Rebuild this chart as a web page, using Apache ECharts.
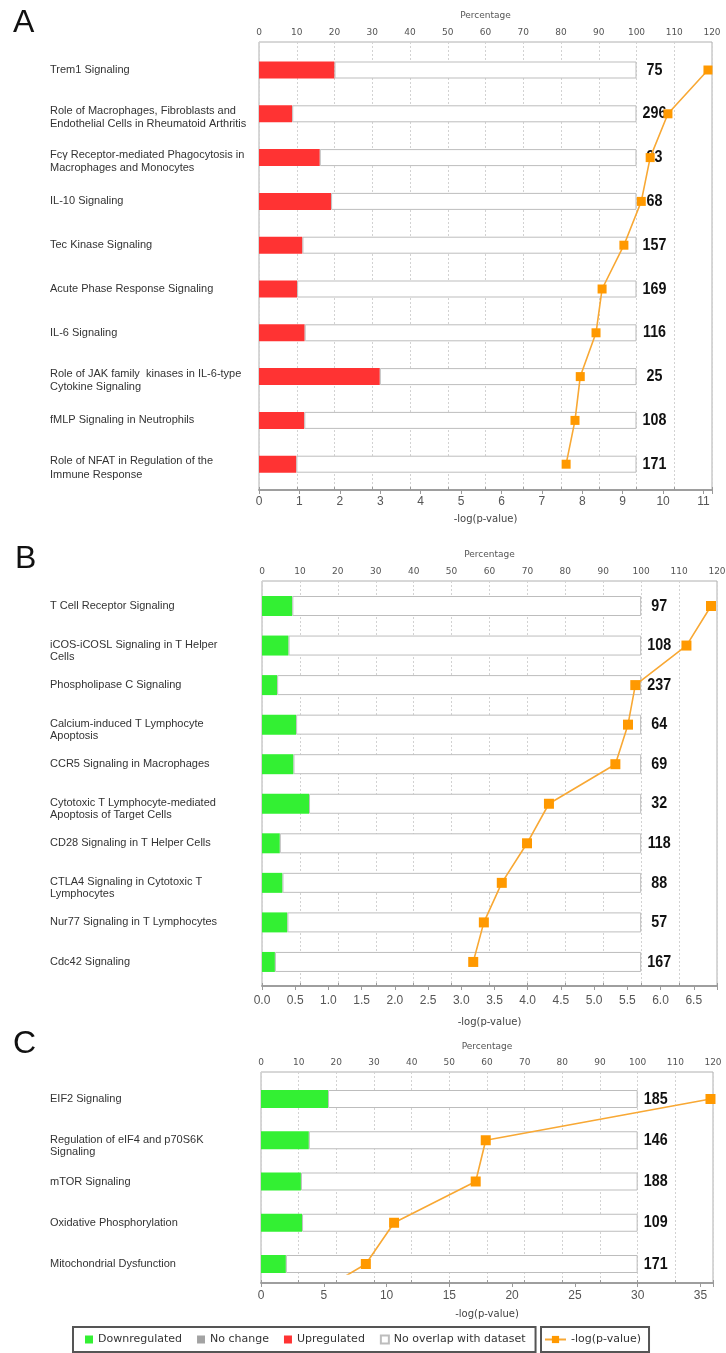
<!DOCTYPE html>
<html>
<head>
<meta charset="utf-8">
<script src="https://cdn.jsdelivr.net/npm/echarts@6/dist/echarts.min.js"></script>
<style>
  html, body { margin: 0; padding: 0; background: #fff; }
  #chart { width: 726px; height: 1353px; }
</style>
</head>
<body>
<div id="chart"></div>
<script>
// ---- Panel A: canonical pathways of the upregulated genes ----
const pathwaysA = [
  'Trem1 Signaling',
  'Role of Macrophages, Fibroblasts and\nEndothelial Cells in Rheumatoid Arthritis',
  'Fcγ Receptor-mediated Phagocytosis in\nMacrophages and Monocytes',
  'IL-10 Signaling',
  'Tec Kinase Signaling',
  'Acute Phase Response Signaling',
  'IL-6 Signaling',
  'Role of JAK family  kinases in IL-6-type\nCytokine Signaling',
  'fMLP Signaling in Neutrophils',
  'Role of NFAT in Regulation of the\nImmune Response'
];
const upPctA  = [20.0, 8.8, 16.1, 19.1, 11.5, 10.1, 12.1, 32.0, 12.0, 9.9];
const logPA   = [11.11, 10.12, 9.68, 9.46, 9.03, 8.49, 8.34, 7.95, 7.82, 7.60];
const totalsA = [75, 296, 93, 68, 157, 169, 116, 25, 108, 171];
const logTicksA = [0, 1, 2, 3, 4, 5, 6, 7, 8, 9, 10, 11];

// ---- Panel B: canonical pathways of the downregulated genes ----
const pathwaysB = [
  'T Cell Receptor Signaling',
  'iCOS-iCOSL Signaling in T Helper\nCells',
  'Phospholipase C Signaling',
  'Calcium-induced T Lymphocyte\nApoptosis',
  'CCR5 Signaling in Macrophages',
  'Cytotoxic T Lymphocyte-mediated\nApoptosis of Target Cells',
  'CD28 Signaling in T Helper Cells',
  'CTLA4 Signaling in Cytotoxic T\nLymphocytes',
  'Nur77 Signaling in T Lymphocytes',
  'Cdc42 Signaling'
];
const downPctB = [8.0, 7.0, 4.0, 9.0, 8.3, 12.4, 4.7, 5.4, 6.7, 3.4];
const logPB    = [6.76, 6.39, 5.62, 5.51, 5.32, 4.32, 3.99, 3.61, 3.34, 3.18];
const totalsB  = [97, 108, 237, 64, 69, 32, 118, 88, 57, 167];
const logTicksB = [0, 0.5, 1, 1.5, 2, 2.5, 3, 3.5, 4, 4.5, 5, 5.5, 6, 6.5];

// ---- Panel C ----
const pathwaysC = [
  'EIF2 Signaling',
  'Regulation of eIF4 and p70S6K\nSignaling',
  'mTOR Signaling',
  'Oxidative Phosphorylation',
  'Mitochondrial Dysfunction'
];
const downPctC = [17.8, 12.7, 10.6, 10.9, 6.6];
// the last value belongs to the next pathway in the ranking; only the start of
// its segment is visible before the plot frame cuts the line off
const logPC    = [35.8, 17.9, 17.1, 10.6, 8.35, 2.8];
const totalsC  = [185, 146, 188, 109, 171];
const logTicksC = [0, 5, 10, 15, 20, 25, 30, 35];

const percentTicks = [0, 10, 20, 30, 40, 50, 60, 70, 80, 90, 100, 110, 120];

// ---- layout of the three stacked panels (pixels) ----
// wrapTop / wrapBottom: line boxes of two-line pathway names, so that the first
// line sits near the bar centre and the second hangs below it
const panels = [
  { letter: 'A', lx: 13, ly: 23.5, left: 259, right: 712, top: 42, bottom: 490,
    firstRow: 70, rowStep: 43.8, barH: 17, logMax: 11.21, clipBottom: 490,
    topLabelGap: 5, topNameGap: 22, botLabelGap: 6, botNameGap: 24,
    wrapTop: 21, wrapBottom: 6, sym: 9,
    cats: pathwaysA, pct: upPctA, pctName: 'Upregulated', pctColor: '#ff3333',
    logP: logPA, totals: totalsA, logTicks: logTicksA, digits: 0 },
  { letter: 'B', lx: 15, ly: 559, left: 262, right: 717, top: 581, bottom: 986,
    firstRow: 606, rowStep: 39.55, barH: 20, logMax: 6.85, clipBottom: 986,
    topLabelGap: 5, topNameGap: 22, botLabelGap: 9, botNameGap: 31,
    wrapTop: 22, wrapBottom: 1, sym: 10,
    cats: pathwaysB, pct: downPctB, pctName: 'Downregulated', pctColor: '#33f033',
    logP: logPB, totals: totalsB, logTicks: logTicksB, digits: 1 },
  { letter: 'C', lx: 13, ly: 1044.5, left: 261, right: 713, top: 1072, bottom: 1283,
    firstRow: 1099, rowStep: 41.25, barH: 18, logMax: 36, clipBottom: 1274,
    topLabelGap: 5, topNameGap: 21, botLabelGap: 7, botNameGap: 26,
    wrapTop: 23, wrapBottom: 1, sym: 10,
    cats: pathwaysC, pct: downPctC, pctName: 'Downregulated', pctColor: '#33f033',
    logP: logPC, totals: totalsC, logTicks: logTicksC, digits: 0 }
];

const AXIS_GREY = '#9a9a9a';
const TICK_TEXT = '#555';
const grid = [], xAxis = [], yAxis = [], series = [], graphic = [];

function tickFormatter(ticks, digits) {
  return v => {
    const hit = ticks.find(t => Math.abs(t - v) < 1e-6);
    return hit === undefined ? '' : hit.toFixed(digits);
  };
}

function pathwayFormatter(v) {
  const lines = String(v).split('\n');
  if (lines.length < 2) return '{one|' + v + '}';
  return '{first|' + lines[0] + '}\n{second|' + lines[1] + '}';
}

// pathway totals printed just right of each 100 % bar, in a condensed bold face
function totalsRenderer(params, api) {
  const pt = api.coord([api.value(0), api.value(1)]);
  return {
    type: 'text', x: pt[0] + 18, y: pt[1], scaleX: 0.84,
    style: { text: String(api.value(2)), font: 'bold 17px "Liberation Sans", Arial, sans-serif',
      fill: '#111', align: 'center', verticalAlign: 'middle' }
  };
}

panels.forEach((p, k) => {
  const n = p.cats.length;
  const gFrame = grid.length, gBar = gFrame + 1, gLine = gFrame + 2;
  const width = p.right - p.left;

  // frame with both horizontal axes
  grid.push({ left: p.left, width: width, top: p.top, height: p.bottom - p.top,
    show: true, borderColor: '#b0b0b0', borderWidth: 1, backgroundColor: 'transparent',
    containLabel: false, outerBoundsMode: 'none' });
  // bars: one band per pathway
  const barTop = p.firstRow - p.rowStep / 2;
  grid.push({ left: p.left, width: width, top: barTop, height: n * p.rowStep,
    containLabel: false, outerBoundsMode: 'none' });
  // -log(p) line, clipped to the frame
  grid.push({ left: p.left, width: width, top: p.top, height: p.clipBottom - p.top,
    containLabel: false, outerBoundsMode: 'none' });

  xAxis.push({
    type: 'value', gridIndex: gFrame, position: 'top',
    min: percentTicks[0], max: percentTicks[percentTicks.length - 1],
    interval: percentTicks[1] - percentTicks[0],
    name: 'Percentage', nameLocation: 'middle', nameGap: p.topNameGap,
    nameTextStyle: { fontFamily: 'DejaVu Sans', fontSize: 9, color: '#555' },
    axisLine: { show: true, lineStyle: { color: AXIS_GREY, width: 1.5 } },
    axisTick: { show: true, length: 3, lineStyle: { color: AXIS_GREY } },
    axisLabel: { margin: p.topLabelGap, fontFamily: 'DejaVu Sans', fontSize: 9, color: '#555',
      formatter: tickFormatter(percentTicks, 0) },
    splitLine: { show: true, lineStyle: { color: '#d2d2d2', type: [2, 2], width: 1 } }
  });
  xAxis.push({
    type: 'value', gridIndex: gFrame, position: 'bottom',
    min: 0, max: p.logMax, interval: p.logTicks[1] - p.logTicks[0],
    name: '-log(p-value)', nameLocation: 'middle', nameGap: p.botNameGap,
    nameTextStyle: { fontFamily: 'DejaVu Sans', fontSize: 10, color: '#444' },
    axisLine: { show: true, lineStyle: { color: AXIS_GREY, width: 1.5 } },
    axisTick: { show: true, length: 4, lineStyle: { color: AXIS_GREY } },
    axisLabel: { margin: p.botLabelGap, fontFamily: 'Liberation Sans', fontSize: 12, color: TICK_TEXT,
      formatter: tickFormatter(p.logTicks, p.digits) },
    splitLine: { show: false }
  });
  const xBar = xAxis.length;
  xAxis.push({ type: 'value', gridIndex: gBar, show: false,
    min: percentTicks[0], max: percentTicks[percentTicks.length - 1] });
  const xLine = xAxis.length;
  xAxis.push({ type: 'value', gridIndex: gLine, show: false, min: 0, max: p.logMax });

  yAxis.push({ type: 'value', gridIndex: gFrame, show: false, min: 0, max: 1 });
  const yBar = yAxis.length;
  yAxis.push({
    type: 'category', gridIndex: gBar, inverse: true, data: p.cats,
    axisLine: { show: false }, axisTick: { show: false }, splitLine: { show: false },
    axisLabel: {
      margin: p.left - 50, align: 'left', verticalAlign: 'middle',
      fontFamily: 'Liberation Sans', fontSize: 11, color: '#333',
      formatter: pathwayFormatter,
      rich: {
        one: { lineHeight: 13 },
        first: { lineHeight: p.wrapTop },
        second: { lineHeight: p.wrapBottom }
      }
    }
  });
  const yLine = yAxis.length;
  const yMin = -(p.firstRow - p.top) / p.rowStep;
  yAxis.push({ type: 'value', gridIndex: gLine, show: false, inverse: true,
    min: yMin, max: yMin + (p.clipBottom - p.top) / p.rowStep });

  const stack = 'pathway' + k;
  const rest = p.pct.map(v => +(100 - v).toFixed(2));
  series.push({
    type: 'bar', name: p.pctName, xAxisIndex: xBar, yAxisIndex: yBar, stack: stack,
    barWidth: p.barH, data: p.pct, itemStyle: { color: p.pctColor }, z: 3
  });
  series.push({
    type: 'bar', name: 'No overlap with dataset', xAxisIndex: xBar, yAxisIndex: yBar, stack: stack,
    barWidth: p.barH, data: rest,
    itemStyle: { color: '#ffffff', borderColor: '#bdbdbd', borderWidth: 1 }, z: 3
  });
  series.push({
    type: 'custom', name: 'Molecules', xAxisIndex: xBar, yAxisIndex: yBar,
    data: p.totals.map((t, i) => [p.pct[i] + rest[i], i, t]),
    encode: { x: 0, y: 1 }, renderItem: totalsRenderer, z: 4, silent: true
  });
  series.push({
    type: 'line', name: '-log(p-value)', xAxisIndex: xLine, yAxisIndex: yLine,
    data: p.logP.map((v, i) => [v, i]), clip: true,
    symbol: 'rect', symbolSize: p.sym, showSymbol: true,
    itemStyle: { color: '#ff9900' },
    lineStyle: { color: '#f8a834', width: 1.6 }, z: 10
  });

  graphic.push({ type: 'text', x: p.lx, y: p.ly,
    style: { text: p.letter, fontFamily: 'Liberation Sans', fontSize: 32, fill: '#111',
      align: 'left', verticalAlign: 'middle' } });
});

// legend entry for a regulation class with no bars in these panels
series.push({ type: 'scatter', name: 'No change', xAxisIndex: 3, yAxisIndex: 2,
  data: [], itemStyle: { color: '#8c8c8c' } });

const legendText = { fontFamily: 'DejaVu Sans', fontSize: 11, color: '#333' };
const option = {
  animation: false,
  backgroundColor: '#ffffff',
  grid, xAxis, yAxis, series, graphic,
  legend: [
    { data: ['Downregulated', 'No change', 'Upregulated', 'No overlap with dataset'],
      left: 73, top: 1327, orient: 'horizontal', icon: 'rect',
      itemWidth: 8, itemHeight: 8, itemGap: 15, padding: [7, 10, 7, 12],
      borderColor: '#555', borderWidth: 2, textStyle: legendText, selectedMode: false },
    { data: ['-log(p-value)'], left: 541, top: 1327,
      itemWidth: 21, itemHeight: 9, itemGap: 10, padding: [7, 8, 7, 3],
      borderColor: '#555', borderWidth: 2, textStyle: legendText, selectedMode: false }
  ]
};

const chart = echarts.init(document.getElementById('chart'), null, { renderer: 'canvas' });
chart.setOption(option);
</script>
</body>
</html>
